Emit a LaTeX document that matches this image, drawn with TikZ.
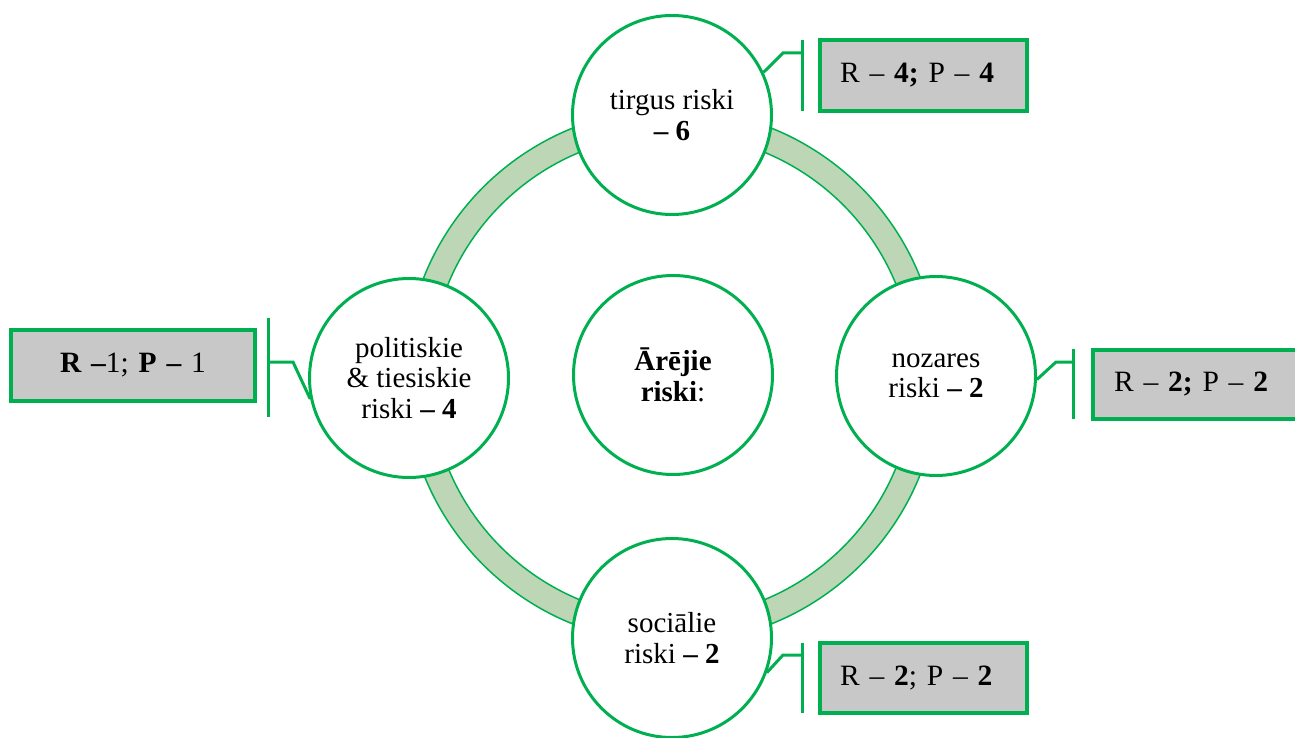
\documentclass[tikz,border=0pt]{standalone}
\usepackage{fontspec}
\setmainfont{Liberation Serif}
\definecolor{grn}{HTML}{00B050}
\definecolor{ringfill}{HTML}{BDD6B5}
\definecolor{boxgray}{HTML}{C8C8C8}
\tikzset{
 riskcircle/.style={circle, draw=grn, line width=3pt, fill=white, minimum size=199pt, inner sep=0pt, align=center, font=\fontsize{29}{30.5}\selectfont},
 callbox/.style={rectangle, draw=grn, line width=4pt, fill=boxgray, inner xsep=20pt, inner ysep=0pt, font=\fontsize{29.5}{31}\selectfont},
 accent/.style={draw=grn, line width=3pt},
 leader/.style={draw=grn, line width=3pt, line join=miter},
 ringline/.style={draw=grn, line width=1.5pt},
}
\begin{document}
\begin{tikzpicture}[x=1pt,y=-1pt]
\useasboundingbox (0,0) rectangle (1295,738);
\clip (0,0) rectangle (1295,738);
% ring
\coordinate (ctr) at (672,376);
\fill[ringfill, even odd rule] (ctr) circle[radius=267pt] (ctr) circle[radius=242pt];
\draw[ringline] (ctr) circle[radius=267pt];
\draw[ringline] (ctr) circle[radius=242pt];
% circles
\node[riskcircle] (c0) at (673,375) {\textbf{Ārējie}\\\textbf{riski}:};
\node[riskcircle] (ct) at (672,115) {tirgus riski\\\textbf{– 6}};
\node[riskcircle] (cl) at (409,378) {politiskie\\\& tiesiskie\\riski \textbf{– 4}};
\node[riskcircle] (cr) at (936,376) {nozares\\riski \textbf{– 2}};
\node[riskcircle] (cb) at (672,638) {sociālie\\riski \textbf{– 2}};
% callout boxes
\node[callbox, text width=167pt, minimum height=71pt, align=left] (bt) at (923.5,75.5) {R – \textbf{4;} P – \textbf{4}};
\node[callbox, text width=204pt, minimum height=71pt, align=center] (bl) at (133,365.5) {\textbf{R –}1; \textbf{P –} 1};
\node[callbox, inner xsep=21pt, text width=185pt, minimum height=69pt, align=left] (br) at (1206.5,384.5) {R – \textbf{2;} P – \textbf{2}};
\node[callbox, text width=167pt, minimum height=70pt, align=left] (bb) at (923.5,678) {R – \textbf{2}; P – \textbf{2}};
% accent bars
\coordinate (tA) at (802,40);  \coordinate (tB) at (802,111);
\coordinate (lA) at (268,318); \coordinate (lB) at (268,417);
\coordinate (rA) at (1073,349); \coordinate (rB) at (1073,419);
\coordinate (bA) at (802,643); \coordinate (bB) at (802,713);
\draw[accent] (tA) -- (tB);
\draw[accent] (lA) -- (lB);
\draw[accent] (rA) -- (rB);
\draw[accent] (bA) -- (bB);
% leaders
\coordinate (tL) at (802,53);  \coordinate (tK) at (783,53);
\coordinate (lL) at (268,362); \coordinate (lK) at (293,362);
\coordinate (rL) at (1073,362); \coordinate (rK) at (1056,362);
\coordinate (bL) at (802,655); \coordinate (bK) at (783,655);
\draw[leader] (tL) -- (tK) -- (ct.25);
\draw[leader] (lL) -- (lK) -- (cl.192);
\draw[leader] (rL) -- (rK) -- (cr.-2);
\draw[leader] (bL) -- (bK) -- (cb.-20);
\end{tikzpicture}
\end{document}
